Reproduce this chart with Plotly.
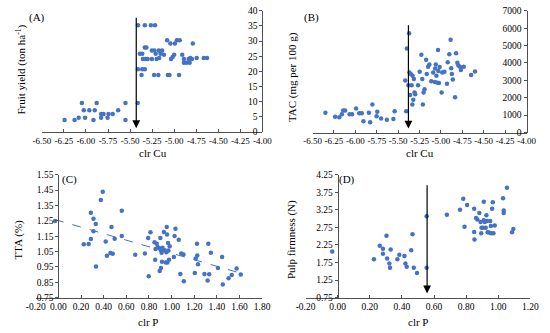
import numpy as np
import plotly.graph_objects as go

# ---------------- data ----------------
# Panel A: clr Cu vs fruit yield
a_x = [-6.242, -6.129, -6.082, -6.046, -6.024, -6.01, -5.962, -5.915, -5.90, -5.878,
       -5.828, -5.828, -5.80, -5.755, -5.744, -5.697, -5.635, -5.552, -5.552, -5.413,
       -5.41, -5.333, -5.264, -5.217, -5.41, -5.362, -5.333, -5.37, -5.389, -5.362,
       -5.355, -5.326, -5.333, -5.315, -5.30, -5.253, -5.253, -5.224, -5.228, -5.21,
       -5.199, -5.18, -5.174, -5.17, -5.155, -5.137, -5.116, -5.08, -5.072, -5.054,
       -5.043, -5.036, -5.018, -5.0, -4.992, -4.97, -4.945, -4.938, -4.909, -4.89,
       -4.89, -4.861, -4.836, -4.825, -4.818, -4.789, -4.80, -4.745, -4.665, -4.628]
a_y = [4.0, 4.0, 4.7, 9.6, 7.2, 4.7, 7.2, 4.0, 7.2, 9.6,
       6.0, 4.7, 6.0, 4.7, 6.0, 6.0, 7.2, 9.6, 4.0, 9.6,
       35.2, 35.2, 35.2, 35.2, 20.7, 20.7, 20.7, 18.8, 25.8, 25.8,
       24.1, 24.1, 27.9, 27.9, 24.1, 26.9, 24.1, 26.9, 18.8, 25.8,
       24.1, 18.8, 26.9, 24.4, 25.8, 26.9, 25.5, 30.3, 18.8, 18.8,
       29.2, 24.1, 24.8, 25.5, 29.2, 30.3, 18.8, 30.3, 25.5, 22.9,
       24.1, 22.9, 24.1, 22.9, 24.4, 29.2, 24.1, 24.4, 24.4, 24.4]

# Panel B: clr Cu vs TAC
b_x = [-6.35, -6.237, -6.188, -6.158, -6.143, -6.12, -6.068, -6.038, -5.992, -5.955,
       -5.925, -5.906, -5.842, -5.827, -5.801, -5.752, -5.744, -5.699, -5.632, -5.556,
       -5.541, -5.406,
       -5.417, -5.398, -5.38, -5.372, -5.368, -5.361, -5.353, -5.342, -5.334, -5.331,
       -5.323, -5.316, -5.308, -5.301, -5.267, -5.248, -5.229, -5.218, -5.211, -5.203,
       -5.192, -5.173, -5.166, -5.15, -5.135, -5.113, -5.09, -5.071, -5.068, -5.060,
       -5.053, -5.041, -5.034, -5.03, -5.023, -5.015, -4.992, -4.985, -4.959, -4.929,
       -4.921, -4.902, -4.887, -4.88, -4.872, -4.861, -4.835, -4.823, -4.808, -4.797,
       -4.778, -4.767, -4.733, -4.647, -4.602]
b_y = [1145, 905, 887, 1053, 1274, 1274, 1053, 1053, 1385, 1108,
       1108, 646, 1145, 591, 1607, 942, 1200, 813, 739, 776,
       1219, 1219,
       2992, 4839, 2715, 5707, 3454, 2161, 3362, 2715, 1607, 3269,
       1884, 3085, 2309, 2198, 2715, 3491, 4470, 3085, 1607, 2309,
       2494, 4193, 3362, 3786, 3916, 2955, 3454, 2900, 3676, 3916,
       3269, 2863, 4747, 3546, 2844, 3768, 2309, 3454, 3491, 2808,
       4045, 4507, 5338, 3694, 3362, 3048, 2032, 4562, 4008, 3860,
       3786, 3602, 3786, 3306, 3509]

# Panel C: clr P vs TTA
c_x = [-0.03, 0.224, 0.267, 0.287, 0.287, 0.310, 0.310, 0.330, 0.332, 0.375,
       0.392, 0.418, 0.429, 0.460, 0.469, 0.480, 0.497, 0.560, 0.560, 0.679,
       0.764, 0.793, 0.798, 0.813, 0.849, 0.855, 0.858, 0.869, 0.878, 0.892,
       0.901, 0.895, 0.906, 0.906, 0.912, 0.915, 0.920, 0.932, 0.940, 0.949,
       0.955, 0.957, 0.960, 0.963, 0.969, 0.972, 0.977, 0.983, 1.020, 1.026,
       1.034, 1.063, 1.077, 1.085, 1.105, 1.108, 1.205, 1.213, 1.224, 1.227,
       1.233, 1.290, 1.318, 1.324, 1.332, 1.347, 1.409, 1.446, 1.452, 1.503,
       1.531, 1.574, 1.611]
c_y = [1.249, 1.097, 1.099, 1.302, 1.131, 1.264, 1.182, 1.230, 0.953, 1.385,
       1.440, 1.116, 1.023, 1.040, 1.209, 1.036, 1.133, 1.315, 1.152, 1.029,
       1.038, 1.139, 0.890, 1.175, 1.110, 0.996, 1.067, 1.101, 1.078, 1.072,
       1.139, 0.924, 0.943, 1.057, 1.042, 0.983, 1.074, 1.177, 1.059, 0.979,
       1.046, 1.209, 1.161, 0.979, 1.106, 1.057, 0.996, 1.084, 1.015, 1.152,
       1.199, 1.127, 0.904, 1.038, 1.031, 0.856, 0.911, 1.004, 1.101, 1.025,
       0.968, 0.904, 0.862, 1.101, 0.902, 1.042, 0.943, 1.015, 0.835, 0.877,
       0.898, 0.940, 0.900]

# Panel D: clr P vs pulp firmness
d_x = [-0.034, 0.226, 0.262, 0.282, 0.282, 0.304, 0.308, 0.322, 0.326, 0.330,
       0.372, 0.384, 0.416, 0.422, 0.430, 0.458, 0.466, 0.474, 0.494, 0.554,
       0.554, 0.680, 0.762, 0.782, 0.790, 0.806, 0.850, 0.850, 0.852, 0.862,
       0.870, 0.882, 0.890, 0.894, 0.896, 0.906, 0.910, 0.910, 0.916, 0.922,
       0.926, 0.930, 0.934, 0.942, 0.950, 0.954, 0.956, 0.962, 0.966, 0.970,
       0.978, 1.034, 1.034, 1.030, 1.054, 1.086, 1.094]
d_y = [2.065, 1.843, 2.231, 2.139, 2.000, 2.509, 1.861, 1.722, 1.602, 2.120,
       1.843, 1.972, 1.935, 1.722, 1.630, 2.102, 2.556, 1.602, 1.454, 3.065,
       1.602, 3.111, 3.250, 3.565, 2.769, 3.389, 3.278, 2.620, 2.407, 3.019,
       2.972, 3.157, 2.907, 2.583, 2.741, 2.741, 3.481, 2.954, 2.907, 2.741,
       3.093, 2.935, 2.611, 2.602, 2.935, 2.787, 2.583, 3.278, 3.463, 2.583,
       2.806, 3.231, 3.157, 3.583, 3.880, 2.611, 2.704]

# Threshold arrows: (x, top y, tip y)
a_arrow = (-5.43, 38.2, 1.3)
b_arrow = (-5.38, 6260, 230)
d_arrow = (0.557, 3.99, 0.87)

# Tick values / labels
cu_ticks = [-6.5, -6.25, -6.0, -5.75, -5.5, -5.25, -5.0, -4.75, -4.5, -4.25, -4.0]
cu_labels = ["-6.50", "-6.25", "-6.00", "-5.75", "-5.50", "-5.25", "-5.00", "-4.75", "-4.50", "-4.25", "-4.00"]
a_yticks = [0, 5, 10, 15, 20, 25, 30, 35, 40]
b_yticks = [0, 1000, 2000, 3000, 4000, 5000, 6000, 7000]
c_xticks = [-0.2, 0.0, 0.2, 0.4, 0.6, 0.8, 1.0, 1.2, 1.4, 1.6, 1.8]
c_xlabels = ["-0.20", "0.00", "0.20", "0.40", "0.60", "0.80", "1.00", "1.20", "1.40", "1.60", "1.80"]
c_yticks = [0.75, 0.85, 0.95, 1.05, 1.15, 1.25, 1.35, 1.45, 1.55]
c_ylabels = ["0.75", "0.85", "0.95", "1.05", "1.15", "1.25", "1.35", "1.45", "1.55"]
d_xticks = [-0.2, 0.0, 0.2, 0.4, 0.6, 0.8, 1.0, 1.2]
d_xlabels = ["-0.20", "0.00", "0.20", "0.40", "0.60", "0.80", "1.00", "1.20"]
d_yticks = [0.75, 1.25, 1.75, 2.25, 2.75, 3.25, 3.75, 4.25]
d_ylabels = ["0.75", "1.25", "1.75", "2.25", "2.75", "3.25", "3.75", "4.25"]

# ---------------- figure ----------------
FONT = "Liberation Serif"
BLUE = "#4472C4"
AX = "#505050"
W, H = 550, 333

def px_x(p):
    return p / W

def px_y(p):
    return 1 - p / H

dom = {
    "A": ([px_x(33), px_x(262)], [px_y(131), px_y(6)]),
    "B": ([px_x(314), px_x(536)], [px_y(131.5), px_y(6)]),
    "C": ([px_x(26.7), px_x(261.7)], [px_y(301.7), px_y(175)]),
    "D": ([px_x(306.7), px_x(540)], [px_y(301.7), px_y(175)]),
}

fig = go.Figure()
marker = dict(color=BLUE, size=4.5)
fig.add_trace(go.Scatter(x=a_x, y=a_y, mode="markers", marker=marker, xaxis="x", yaxis="y"))
fig.add_trace(go.Scatter(x=b_x, y=b_y, mode="markers", marker=marker, xaxis="x2", yaxis="y2"))
fig.add_trace(go.Scatter(x=c_x, y=c_y, mode="markers", marker=marker, xaxis="x3", yaxis="y3"))
fig.add_trace(go.Scatter(x=d_x, y=d_y, mode="markers", marker=marker, xaxis="x4", yaxis="y4"))

# linear trend line for panel C
slope, icpt = np.polyfit(c_x, c_y, 1)
tx = np.array([min(c_x), max(c_x)])
fig.add_trace(go.Scatter(x=tx, y=slope * tx + icpt, mode="lines",
                         line=dict(color=BLUE, width=1, dash="dash"),
                         xaxis="x3", yaxis="y3"))

tickfont = dict(family=FONT, size=9.5, color="black")
tickfont_cu = dict(family=FONT, size=9, color="black")

def xax(domain, anchor, rng, tv, tt, tf=tickfont):
    return dict(domain=domain, anchor=anchor, range=rng, tickvals=tv, ticktext=tt,
                showgrid=False, zeroline=False, showline=True, linecolor=AX, linewidth=1,
                ticks="inside", ticklen=3, tickcolor=AX, tickfont=tf, tickangle=0,
                fixedrange=True)

def yax(domain, pos, rng, tv, tt):
    return dict(domain=domain, anchor="free", position=pos, side="left", range=rng,
                tickvals=tv, ticktext=tt, showgrid=False, zeroline=False, showline=True,
                linecolor=AX, linewidth=1, ticks="outside", ticklen=3, tickcolor=AX,
                tickfont=tickfont, fixedrange=True)

def xpos(domain, rng, val):
    return domain[0] + (val - rng[0]) / (rng[1] - rng[0]) * (domain[1] - domain[0])

cu_rng = [-6.5, -4.0]
c_rng = [-0.2, 1.8]
d_rng = [-0.2, 1.2]

fig.update_layout(
    width=W, height=H, margin=dict(l=0, r=0, t=0, b=0),
    paper_bgcolor="white", plot_bgcolor="white", showlegend=False,
    font=dict(family=FONT, color="black"),
    xaxis=xax(dom["A"][0], "y", cu_rng, cu_ticks, cu_labels, tickfont_cu),
    yaxis=yax(dom["A"][1], dom["A"][0][1], [0, 40], a_yticks, [str(v) for v in a_yticks]),
    xaxis2=xax(dom["B"][0], "y2", cu_rng, cu_ticks, cu_labels, tickfont_cu),
    yaxis2=yax(dom["B"][1], dom["B"][0][1], [0, 7000], b_yticks, [str(v) for v in b_yticks]),
    xaxis3=xax(dom["C"][0], "y3", c_rng, c_xticks, c_xlabels),
    yaxis3=yax(dom["C"][1], xpos(dom["C"][0], c_rng, 0.0), [0.75, 1.55], c_yticks, c_ylabels),
    xaxis4=xax(dom["D"][0], "y4", d_rng, d_xticks, d_xlabels),
    yaxis4=yax(dom["D"][1], xpos(dom["D"][0], d_rng, 0.0), [0.75, 4.25], d_yticks, d_ylabels),
)

anns = []
# arrows
for (ax_x, ax_y), (xv, top, tip) in [(("x", "y"), a_arrow), (("x2", "y2"), b_arrow), (("x4", "y4"), d_arrow)]:
    anns.append(dict(x=xv, y=tip, ax=xv, ay=top, xref=ax_x, yref=ax_y, axref=ax_x, ayref=ax_y,
                     showarrow=True, arrowhead=2, arrowsize=1.3, arrowwidth=1.2,
                     arrowcolor="black", text=""))

def label(text, xp, yp, angle=0, size=11):
    return dict(x=px_x(xp), y=px_y(yp), xref="paper", yref="paper", text=text,
                xanchor="center", yanchor="middle", textangle=angle,
                showarrow=False, font=dict(family=FONT, size=size, color="black"))

# x titles
anns.append(label("clr Cu", 148, 153))
anns.append(label("clr Cu", 425, 153))
anns.append(label("clr P", 143, 327))
anns.append(label("clr P", 423, 327))
# y titles
anns.append(label("Fruit yield (ton ha<sup>-1</sup>)", 12, 67, -90))
anns.append(label("TAC (mg per 100 g)", 293, 74, -90))
anns.append(label("TTA (%)", 9, 242, -90))
anns.append(label("Pulp firmness (N)", 292, 242, -90))
# panel labels
for lab, xp, yp in [("(A)", 28, 13), ("(B)", 313, 13), ("(C)", 62, 180), ("(D)", 350, 180)]:
    anns.append(label(lab, xp, yp))
fig.update_layout(annotations=anns)

fig.write_html("out.html", config={"displayModeBar": False},
               post_script="document.body.style.margin='0';document.body.style.padding='0';")
